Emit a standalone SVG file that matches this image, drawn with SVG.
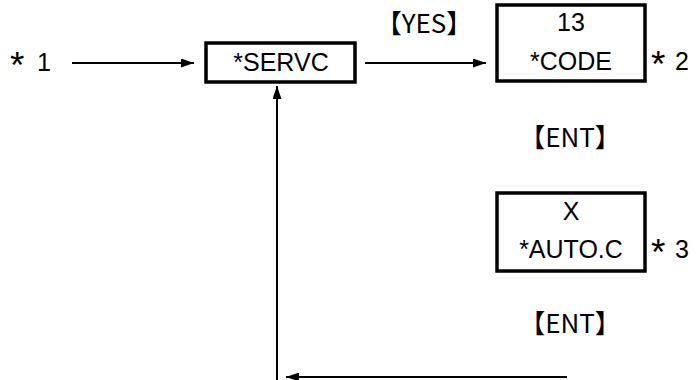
<svg xmlns="http://www.w3.org/2000/svg" width="696" height="380" viewBox="0 0 696 380">
<defs>
<marker id="ah" markerWidth="13" markerHeight="9" refX="13" refY="4.5" orient="auto" markerUnits="userSpaceOnUse">
<path d="M0,0 L13,4.5 L0,9 Z" fill="#000"/>
</marker>
<style>
.box{fill:#fff;stroke:#000;stroke-width:3.5}
.t{font-family:"Liberation Sans",Arial,sans-serif;font-size:25px;fill:#000;text-anchor:middle}
.l{font-family:"Liberation Sans",Arial,sans-serif;font-size:25px;fill:#000}
.s{font-size:37px}
.k{font-family:"Noto Sans CJK JP","Noto Sans",sans-serif;font-size:26px;fill:#000;text-anchor:middle}
.c{stroke:#000;stroke-width:2;fill:none}
</style>
</defs>
<rect width="696" height="380" fill="#fff"/>
<g id="connectors">
<line class="c" x1="72" y1="63" x2="194" y2="63" marker-end="url(#ah)"/>
<line class="c" x1="365" y1="63" x2="486" y2="63" marker-end="url(#ah)"/>
<line class="c" x1="277" y1="380" x2="277" y2="86" marker-end="url(#ah)"/>
<line class="c" x1="567" y1="377" x2="286" y2="377" marker-end="url(#ah)"/>
</g>
<g id="label1"><text class="l" y="71"><tspan class="s" x="10" dy="7">*</tspan> <tspan x="37" dy="-7">1</tspan></text></g>
<g id="servc">
<rect class="box" x="206" y="43" width="149" height="39"/>
<text class="t" x="281" y="71">*SERVC</text>
</g>
<g id="yes"><text class="k" x="424" y="33">【YES】</text></g>
<g id="code">
<rect class="box" x="497" y="5" width="148" height="76"/>
<text class="t" x="571" y="31">13</text>
<text class="t" x="571" y="70">*CODE</text>
</g>
<g id="label2"><text class="l" y="70"><tspan class="s" x="651" dy="7">*</tspan> <tspan x="675" dy="-7">2</tspan></text></g>
<g id="ent1"><text class="k" x="570" y="147">【ENT】</text></g>
<g id="auto">
<rect class="box" x="497" y="193" width="148" height="78"/>
<text class="t" x="571" y="220">X</text>
<text class="t" x="571" y="258">*AUTO.C</text>
</g>
<g id="label3"><text class="l" y="258"><tspan class="s" x="651" dy="7">*</tspan> <tspan x="675" dy="-7">3</tspan></text></g>
<g id="ent2"><text class="k" x="570" y="333">【ENT】</text></g>
</svg>
